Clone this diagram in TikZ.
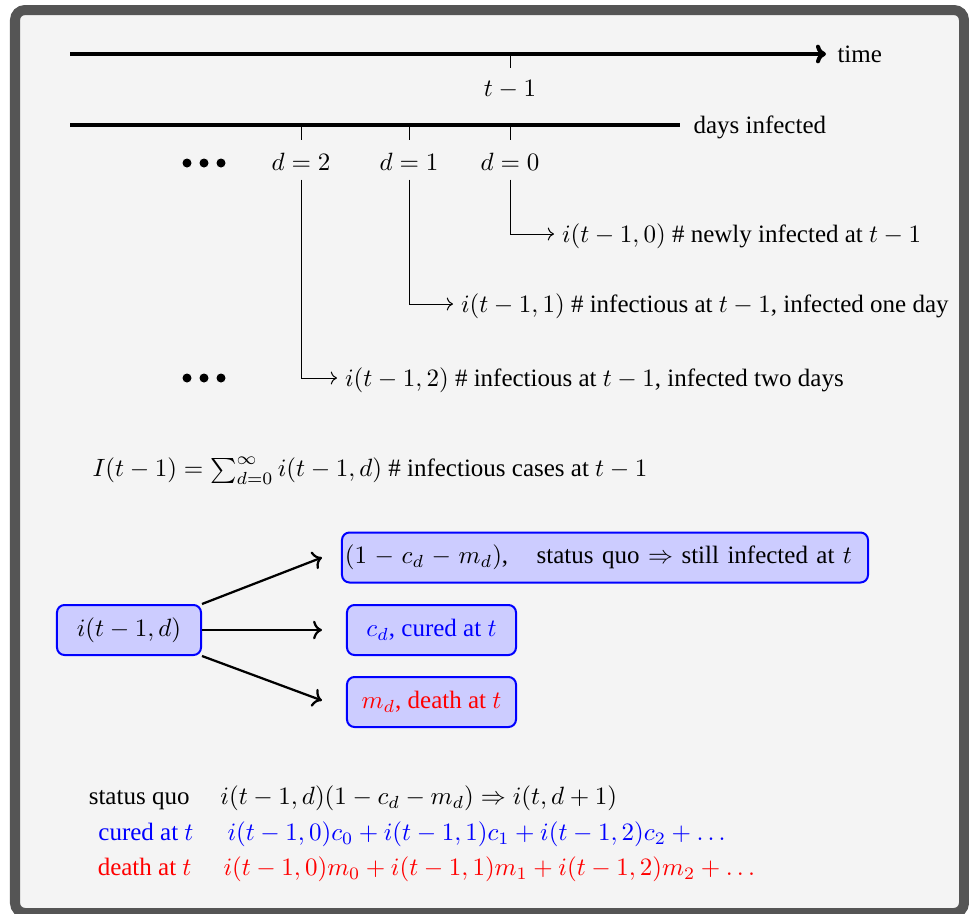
\documentclass[tikz,border=0pt]{standalone}
\usepackage{fontspec}
\setmainfont{Liberation Serif}
\usetikzlibrary{arrows.meta}
\definecolor{framegray}{RGB}{85,85,85}
\definecolor{bggray}{RGB}{244,244,244}
\definecolor{boxfill}{RGB}{204,204,255}
\begin{document}
\begin{tikzpicture}[x=0.4pt,y=-0.4pt,
  txt/.style={inner sep=0pt, anchor=west, text height=8.5pt, text depth=1.5pt},
  lbl/.style={inner xsep=3pt, inner ysep=0pt, anchor=west, text height=8.5pt, text depth=1.5pt},
  box/.style={draw=blue, fill=boxfill, thick, rounded corners=3pt, minimum height=20pt, inner sep=3pt},
  axisline/.style={line width=1.6pt},
  tickline/.style={line width=0.4pt},
  flow/.style={line width=0.9pt, ->}]
\useasboundingbox (0,0) rectangle (969,914);
\draw[framegray, fill=bggray, line width=4pt, rounded corners=4pt] (15,10) rectangle (964,913);

% time axis
\coordinate (tA) at (70,54);
\coordinate (tB) at (826,54);
\draw[axisline,-{To[length=4pt,width=7.5pt]}] (tA) -- (tB);
\node[txt] (timelbl) at (837,54) {time};
\coordinate (tk) at (510,54);
\coordinate (tkend) at (510,68);
\draw[tickline] (tk) -- (tkend);
\node (tm1) at (510,89) {$t-1$};

% days infected axis
\coordinate (dA) at (70,125);
\coordinate (dB) at (680,125);
\draw[axisline] (dA) -- (dB);
\node[txt] (dayslbl) at (693,125) {days infected};
\foreach \xx/\nm in {301/k2,409/k1,510/k0}{
  \coordinate (\nm a) at (\xx,125);
  \coordinate (\nm b) at (\xx,140);
  \draw[tickline] (\nm a) -- (\nm b);
}
\node (d2) at (301,162) {$d=2$};
\node (d1) at (409,162) {$d=1$};
\node (d0) at (510,162) {$d=0$};

% dots
\foreach \xx in {187,204,221}{
  \fill (\xx,163) circle (1.8pt);
  \fill (\xx,378) circle (1.8pt);
}

% day labels
\node[lbl] (l0) at (554,234) {$i(t-1,0)$ \# newly infected at $t-1$};
\node[lbl] (l1) at (453,304) {$i(t-1,1)$ \# infectious at $t-1$, infected one day};
\node[lbl] (l2) at (337,378) {$i(t-1,2)$ \# infectious at $t-1$, infected two days};
\draw[tickline,->] (d0.south) |- (l0.west);
\draw[tickline,->] (d1.south) |- (l1.west);
\draw[tickline,->] (d2.south) |- (l2.west);

% sum
\node[txt] (sum) at (92,468) {$I(t-1)=\sum_{d=0}^{\infty} i(t-1,d)$ \# infectious cases at $t-1$};

% boxes
\node[box, minimum width=57.6pt] (b0) at (129,630) {$i(t-1,d)$};
\node[box, minimum width=210.4pt, inner xsep=0pt] (b1) at (605,557.5) {\makebox[210.4pt][s]{\hspace{1.2pt}$(1-c_d-m_d)$,\hspace{11.4pt}status quo $\Rightarrow$ still infected at $t$\hspace{6.4pt}}};
\node[box, minimum width=67.6pt, text=blue] (b2) at (431.5,630) {$c_d$, cured at $t$};
\node[box, minimum width=67.6pt, text=red] (b3) at (431.5,702) {$m_d$, death at $t$};
\coordinate (e1) at ([xshift=-7.6pt]b1.west);
\coordinate (e2) at ([xshift=-9.6pt]b2.west);
\coordinate (e3) at ([xshift=-9.6pt,yshift=0.6pt]b3.west);
\draw[flow] (b0.north east) -- (e1);
\draw[flow] (b0.east) -- (e2);
\draw[flow] (b0.south east) -- (e3);

% bottom summary
\node[txt, anchor=east] (sq) at (190,796) {status quo};
\node[txt, anchor=east, text=blue] (cu) at (194,832) {cured at $t$};
\node[txt, anchor=east, text=red] (de) at (192,867) {death at $t$};
\node[txt] (eq1) at (220,796) {$i(t-1,d)(1-c_d-m_d)\Rightarrow i(t,d+1)$};
\node[txt, text=blue] (eq2) at (227,832) {$i(t-1,0)c_0+i(t-1,1)c_1+i(t-1,2)c_2+\dots$};
\node[txt, text=red] (eq3) at (223,867) {$i(t-1,0)m_0+i(t-1,1)m_1+i(t-1,2)m_2+\dots$};
\end{tikzpicture}
\end{document}
